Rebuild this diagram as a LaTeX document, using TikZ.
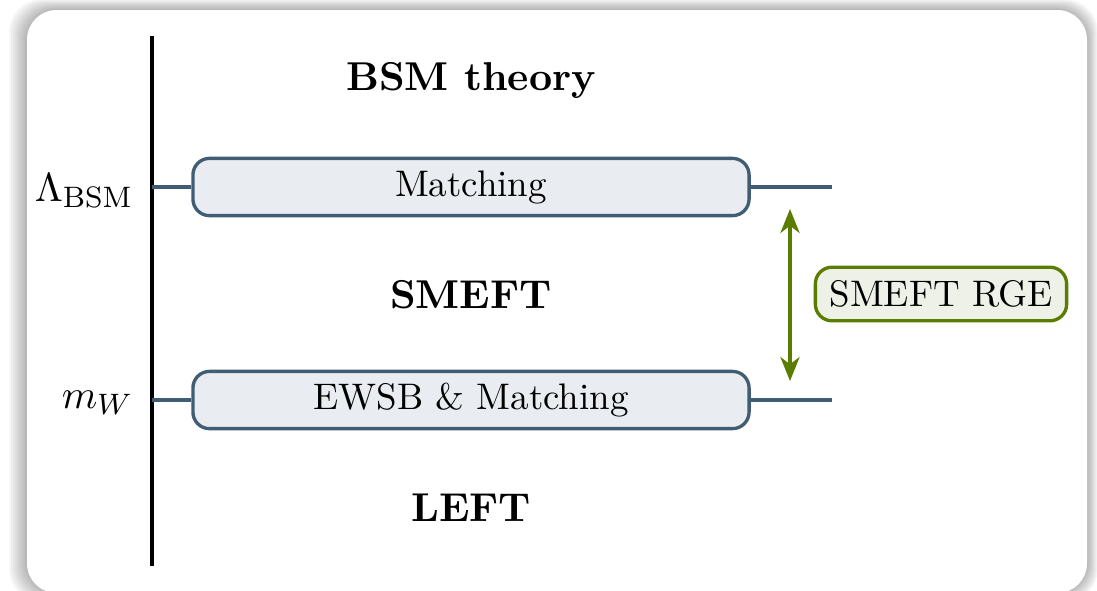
\documentclass[tikz,border=0pt]{standalone}
\usepackage{tikz}
\usetikzlibrary{arrows.meta}
\definecolor{scaleline}{HTML}{415D74}
\definecolor{scalefill}{HTML}{E9EDF1}
\definecolor{rgegreen}{HTML}{5A7D00}
\definecolor{rgefill}{HTML}{EEF1E7}
\newcommand{\eftlabel}[1]{\fontsize{10.9}{13}\selectfont\bfseries #1}
\tikzset{
	scalebox/.style={draw=scaleline, fill=scalefill, line width=0.9pt, rounded corners=4.5pt, minimum width=150.5pt, minimum height=15.5pt, inner sep=0pt},
	rgebox/.style={draw=rgegreen, fill=rgefill, line width=0.9pt, rounded corners=4.5pt, minimum width=68pt, minimum height=14.5pt, inner sep=0pt},
	scaletick/.style={draw=scaleline, line width=0.9pt},
	scalelab/.style={anchor=east, inner sep=0pt, font=\fontsize{11}{13}\selectfont}
}

\begin{document}
\begin{tikzpicture}[x=0.2706pt, y=-0.2706pt]
		\useasboundingbox (0,0) rectangle (1097,590);
		% card with soft shadow
		\foreach \s in {1,...,9}
			\fill[black, opacity=0.035, rounded corners=9pt] (27-2*\s,10-1.2*\s) rectangle (1087+1.2*\s,593+\s);
		\fill[white, rounded corners=8pt] (27,10) rectangle (1087,593);

		% energy axis
		\coordinate (axtop) at (152,36);
		\coordinate (axbot) at (152,566);
		\draw[black, line width=0.9pt] (axtop) -- (axbot);

		\coordinate (lbsm) at (152,187);
		\coordinate (lbsmR) at (832,187);
		\coordinate (mw) at (152,400);
		\coordinate (mwR) at (832,400);

		\node[scalelab] (lbsmlab) at (134,191) {$\Lambda_{\mathrm{BSM}}$};
		\node[scalelab] (mwlab) at (134,403) {$m_W$};

		\node[scalebox] (match) at (471,187) {Matching};
		\node[scalebox] (ewsb) at (471,400) {EWSB \& Matching};

		\draw[scaletick] (lbsm) -- (match.west);
		\draw[scaletick] (match.east) -- (lbsmR);
		\draw[scaletick] (mw) -- (ewsb.west);
		\draw[scaletick] (ewsb.east) -- (mwR);

		\node (bsm) at (471,80) {\eftlabel{BSM theory}};
		\node (smeft) at (471,295) {\eftlabel{SMEFT}};
		\node (left) at (471,508) {\eftlabel{LEFT}};

		% running
		\coordinate (rgetop) at (790,209);
		\coordinate (rgebot) at (790,381);
		\draw[rgegreen, line width=0.9pt, {Stealth[length=6.5pt,width=5.2pt,inset=2pt]}-{Stealth[length=6.5pt,width=5.2pt,inset=2pt]}] (rgetop) -- (rgebot);
		\node[rgebox] (rge) at (941,294) {SMEFT RGE};
\end{tikzpicture}
\end{document}
